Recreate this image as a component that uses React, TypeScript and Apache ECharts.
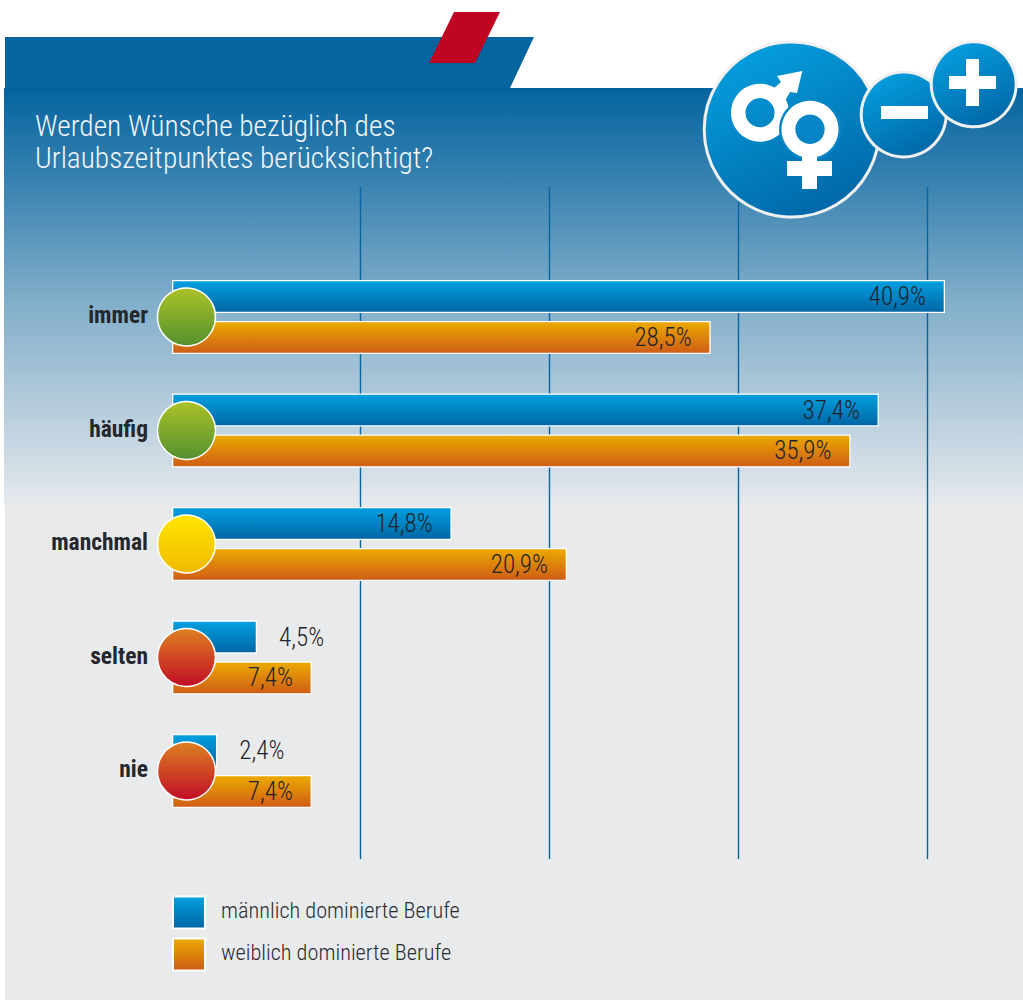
import React, { useEffect, useRef } from "react";
import * as echarts from "echarts";

const categories = ["immer", "häufig", "manchmal", "selten", "nie"];
const maleValues = [40.9, 37.4, 14.8, 4.5, 2.4];
const femaleValues = [28.5, 35.9, 20.9, 7.4, 7.4];
const seriesNames = ["männlich dominierte Berufe", "weiblich dominierte Berufe"];
const dotColors = [
  ["#abc227", "#54902e"],
  ["#abc227", "#54902e"],
  ["#ffe600", "#f1ba00"],
  ["#de8021", "#c00d26"],
  ["#de8021", "#c00d26"],
];
const titleText = "Werden Wünsche bezüglich des\nUrlaubszeitpunktes berücksichtigt?";

const FONT = '"Roboto Condensed", Roboto, sans-serif';
const v = (a: string, b: string) =>
  new echarts.graphic.LinearGradient(0, 0, 0, 1, [
    { offset: 0, color: a },
    { offset: 1, color: b },
  ]);
const diag = () =>
  new echarts.graphic.LinearGradient(0.2, 0, 0.7, 1, [
    { offset: 0, color: "#05a0e0" },
    { offset: 1, color: "#0166a6" },
  ]);

const labelled = (val: number) => ({
  value: val,
  label: {
    show: true,
    position: val < 5 ? "right" : "insideRight",
    distance: val < 5 ? 22 : 19,
    formatter: val.toFixed(1).replace(".", ",") + "%",
    fontFamily: FONT,
    fontWeight: 300,
    fontSize: 25,
    color: "#1f232a",
  },
});

const white = "#ffffff";
const BLUE = "#0785c6";

function background(): any[] {
  return [
    { type: "rect", z: -10, silent: true, shape: { x: 5, y: 500, width: 1018, height: 500 }, style: { fill: "#e8eaec" } },
    {
      type: "rect", z: -9, silent: true,
      shape: { x: 4, y: 88, width: 1019, height: 417 },
      style: {
        fill: new echarts.graphic.LinearGradient(0, 0, 0, 1, [
          { offset: 0, color: "#04649f" },
          { offset: 0.25, color: "#3f86b3" },
          { offset: 0.5, color: "#7fadc9" },
          { offset: 0.75, color: "#b2cadb" },
          { offset: 1, color: "#e6e9ec" },
        ]),
      },
    },
    { type: "polygon", z: -8, silent: true, shape: { points: [[5, 37], [534, 37], [510, 88], [5, 88]] }, style: { fill: "#04649f" } },
    { type: "polygon", z: -7, silent: true, shape: { points: [[454, 12], [500, 12], [475, 63], [429, 63]] }, style: { fill: "#c00522" } },
  ];
}

function icons(): any[] {
  const stroke = { stroke: "#f0f0f0", lineWidth: 3 };
  return [
    { type: "circle", z: 100, silent: true, shape: { cx: 791.7, cy: 129.5, r: 87.5 }, style: { fill: diag(), ...stroke } },
    { type: "ring", z: 101, silent: true, shape: { cx: 760, cy: 112.7, r: 29, r0: 14.6 }, style: { fill: white } },
    {
      type: "polygon", z: 101, silent: true,
      shape: { points: [[802.3, 71], [777, 76], [781, 82], [772, 90], [785, 101], [790, 92], [797, 93]] },
      style: { fill: white },
    },
    { type: "circle", z: 102, silent: true, shape: { cx: 810, cy: 129.3, r: 31 }, style: { fill: BLUE } },
    { type: "ring", z: 103, silent: true, shape: { cx: 810, cy: 129.3, r: 28.5, r0: 14.7 }, style: { fill: white } },
    { type: "rect", z: 103, silent: true, shape: { x: 802, y: 153, width: 15, height: 36 }, style: { fill: white } },
    { type: "rect", z: 103, silent: true, shape: { x: 787, y: 161, width: 45, height: 15 }, style: { fill: white } },
    { type: "circle", z: 104, silent: true, shape: { cx: 903.7, cy: 114.5, r: 42.5 }, style: { fill: diag(), ...stroke } },
    { type: "rect", z: 105, silent: true, shape: { x: 881, y: 106, width: 47, height: 13 }, style: { fill: white } },
    { type: "circle", z: 106, silent: true, shape: { cx: 973.7, cy: 84.3, r: 42.5 }, style: { fill: diag(), ...stroke } },
    { type: "rect", z: 107, silent: true, shape: { x: 949, y: 76, width: 47, height: 13 }, style: { fill: white } },
    { type: "rect", z: 107, silent: true, shape: { x: 966, y: 59, width: 13, height: 47 }, style: { fill: white } },
  ];
}

export default function App() {
  const ref = useRef<HTMLDivElement>(null);
  useEffect(() => {
    document.body.style.margin = "0";
    const chart = echarts.init(ref.current!, null, { renderer: "svg" });
    const barCommon = {
      type: "bar",
      xAxisIndex: 1,
      yAxisIndex: 1,
      barWidth: 33,
      barGap: "24%",
      z: 3,
    };
    chart.setOption({
      animation: false,
      title: {
        text: titleText,
        left: 35,
        top: 109.5,
        padding: 0,
        textStyle: { fontFamily: FONT, fontWeight: 300, fontSize: 29.4, lineHeight: 32, color: "#f2f6f9" },
      },
      legend: {
        orient: "vertical",
        left: 172,
        top: 895.5,
        padding: 0,
        itemWidth: 32,
        itemHeight: 32,
        itemGap: 8,
        icon: "rect",
        data: seriesNames,
        selectedMode: false,
        formatter: "{a|{name}}",
        textStyle: {
          rich: {
            a: { fontFamily: FONT, fontWeight: 300, fontSize: 22.3, lineHeight: 25, color: "#2a2d33", padding: [0, 0, 6, 11] },
          },
        },
      },
      grid: [
        { left: 171.2, top: 187, width: 850.5, height: 672 },
        { left: 172, top: 260.25, width: 850.5, height: 567.5 },
      ],
      xAxis: [
        {
          gridIndex: 0, type: "value", min: 0, max: 45, interval: 10,
          axisLine: { show: false }, axisTick: { show: false }, axisLabel: { show: false },
          splitLine: { show: true, showMinLine: false, showMaxLine: false, lineStyle: { color: "#07659f", width: 1.4 } },
        },
        {
          gridIndex: 1, type: "value", min: 0, max: 45, interval: 10,
          axisLine: { show: false }, axisTick: { show: false }, axisLabel: { show: false }, splitLine: { show: false },
        },
      ],
      yAxis: [
        { gridIndex: 0, type: "value", show: false },
        {
          gridIndex: 1, type: "category", inverse: true, data: categories,
          axisLine: { show: false }, axisTick: { show: false },
          axisLabel: {
            margin: 24,
            formatter: "{a|{value}}",
            rich: {
              a: { fontFamily: FONT, fontSize: 23.5, fontWeight: "bold", color: "#24272d", padding: [0, 0, 4, 0] },
            },
          },
        },
      ],
      series: [
        {
          ...barCommon,
          name: seriesNames[0],
          data: maleValues.map(labelled),
          itemStyle: { color: v("#02a0e0", "#0166a5"), borderColor: white, borderWidth: 1.3 },
        },
        {
          ...barCommon,
          name: seriesNames[1],
          data: femaleValues.map(labelled),
          itemStyle: { color: v("#ebab00", "#cf5c17"), borderColor: white, borderWidth: 1.3 },
        },
        {
          type: "scatter",
          xAxisIndex: 1,
          yAxisIndex: 1,
          clip: false,
          silent: true,
          z: 6,
          symbol: "circle",
          symbolSize: 58,
          symbolOffset: [14.5, 0],
          data: categories.map((c, i) => ({
            value: [0, c],
            itemStyle: { color: v(dotColors[i][0], dotColors[i][1]), borderColor: white, borderWidth: 1.5, opacity: 1 },
          })),
        },
      ],
      graphic: { elements: [...background(), ...icons()] },
    });
    return () => chart.dispose();
  }, []);
  return <div ref={ref} style={{ width: 1023, height: 1001 }} />;
}
